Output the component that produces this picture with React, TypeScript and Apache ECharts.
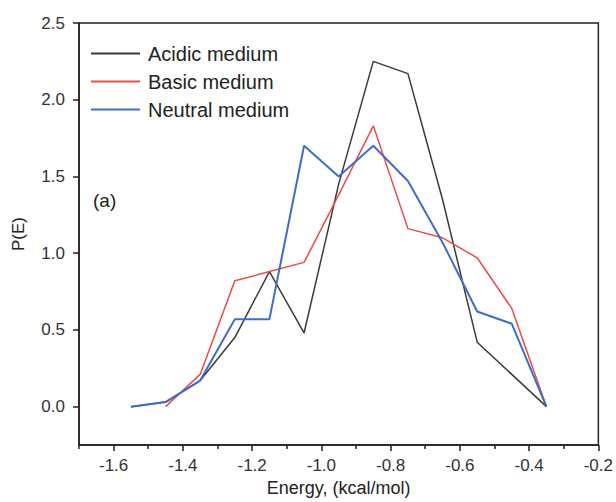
import React, { useEffect, useRef } from "react";
import * as echarts from "echarts";

const energies = [-1.55, -1.45, -1.35, -1.25, -1.15, -1.05, -0.95, -0.85, -0.75, -0.65, -0.55, -0.45, -0.35];
const acidic = [0.0, 0.03, 0.17, 0.45, 0.88, 0.48, 1.45, 2.25, 2.17, 1.35, 0.42, 0.21, 0.0];
const basic = [null, 0.0, 0.21, 0.82, 0.88, 0.94, 1.38, 1.83, 1.16, 1.1, 0.97, 0.64, 0.0];
const neutral = [0.0, 0.03, 0.17, 0.57, 0.57, 1.7, 1.5, 1.7, 1.47, 1.07, 0.62, 0.54, 0.0];

const seriesNames = ["Acidic medium", "Basic medium", "Neutral medium"];
const xMajorTicks = [-1.6, -1.4, -1.2, -1.0, -0.8, -0.6, -0.4, -0.2];
const xMinorTicks = [-1.7, -1.5, -1.3, -1.1, -0.9, -0.7, -0.5, -0.3];
const yTicks = [0.0, 0.5, 1.0, 1.5, 2.0, 2.5];

const FONT = "Liberation Sans, Arial, sans-serif";
const AXIS_COLOR = "#222";

const pairs = (ys: (number | null)[]) =>
  energies.map((x, i) => [x, ys[i]]).filter((p) => p[1] !== null);

const tickAxisX = (values: number[], length: number) => ({
  type: "value",
  position: "bottom",
  min: -1.7,
  max: -0.2,
  axisLine: { show: false, onZero: false },
  axisTick: { show: true, length, customValues: values, lineStyle: { color: AXIS_COLOR, width: 1.5 } },
  axisLabel: { show: false },
  splitLine: { show: false },
});

export default function App() {
  const ref = useRef<HTMLDivElement>(null);
  useEffect(() => {
    if (!ref.current) return;
    const chart = echarts.init(ref.current, undefined, { renderer: "svg" });
    chart.setOption({
      animation: false,
      backgroundColor: "#fff",
      textStyle: { fontFamily: FONT },
      grid: {
        left: 79,
        right: 16,
        top: 23,
        bottom: 57,
        show: true,
        borderColor: AXIS_COLOR,
        borderWidth: 1.5,
        backgroundColor: "transparent",
      },
      legend: {
        orient: "vertical",
        left: 91,
        top: 43,
        padding: 0,
        icon: "rect",
        itemWidth: 49,
        itemHeight: 2,
        itemGap: 7,
        data: seriesNames,
        textStyle: { fontSize: 20, color: "#222", fontFamily: FONT, lineHeight: 21, padding: [0, 0, 0, 3] },
      },
      graphic: [
        {
          type: "text",
          left: 93,
          top: 191,
          style: { text: "(a)", fontSize: 19, fill: "#222", fontFamily: FONT },
        },
      ],
      xAxis: [
        {
          type: "value",
          min: -1.7,
          max: -0.2,
          name: "Energy, (kcal/mol)",
          nameLocation: "middle",
          nameGap: 34,
          nameTextStyle: { fontSize: 18, color: "#222", fontFamily: FONT },
          axisLine: { show: true, onZero: false, lineStyle: { color: AXIS_COLOR, width: 1.5 } },
          axisTick: { show: false },
          axisLabel: {
            customValues: xMajorTicks,
            fontSize: 17,
            color: "#333",
            margin: 12,
            fontFamily: FONT,
            formatter: (v: number) => v.toFixed(1),
          },
          splitLine: { show: false },
        },
        tickAxisX(xMajorTicks, 6),
        tickAxisX(xMinorTicks, 4),
      ],
      yAxis: [
        {
          type: "value",
          min: -0.25,
          max: 2.5,
          name: "P(E)",
          nameLocation: "middle",
          nameGap: 52,
          nameTextStyle: { fontSize: 17, color: "#222", fontFamily: FONT },
          axisLine: { show: true, onZero: false, lineStyle: { color: AXIS_COLOR, width: 1.5 } },
          axisTick: { show: false },
          axisLabel: {
            customValues: yTicks,
            fontSize: 17,
            color: "#333",
            margin: 14,
            fontFamily: FONT,
            formatter: (v: number) => v.toFixed(1),
          },
          splitLine: { show: false },
        },
        {
          type: "value",
          position: "left",
          min: -0.25,
          max: 2.5,
          axisLine: { show: false, onZero: false },
          axisTick: { show: true, length: 6, customValues: yTicks, lineStyle: { color: AXIS_COLOR, width: 1.5 } },
          axisLabel: { show: false },
          splitLine: { show: false },
        },
      ],
      series: [
        {
          name: seriesNames[0],
          type: "line",
          data: pairs(acidic),
          symbol: "none",
          color: "#3a3a3a",
          lineStyle: { color: "#3a3a3a", width: 1.5 },
        },
        {
          name: seriesNames[1],
          type: "line",
          data: pairs(basic),
          symbol: "none",
          color: "#ec4c46",
          lineStyle: { color: "#ec4c46", width: 1.5 },
        },
        {
          name: seriesNames[2],
          type: "line",
          data: pairs(neutral),
          symbol: "none",
          color: "#3e6ec8",
          lineStyle: { color: "#3e6ec8", width: 2 },
        },
      ],
    });
    return () => chart.dispose();
  }, []);
  return (
    <div
      ref={ref}
      style={{ position: "fixed", left: 0, top: 0, width: 616, height: 502, background: "#fff" }}
    />
  );
}
